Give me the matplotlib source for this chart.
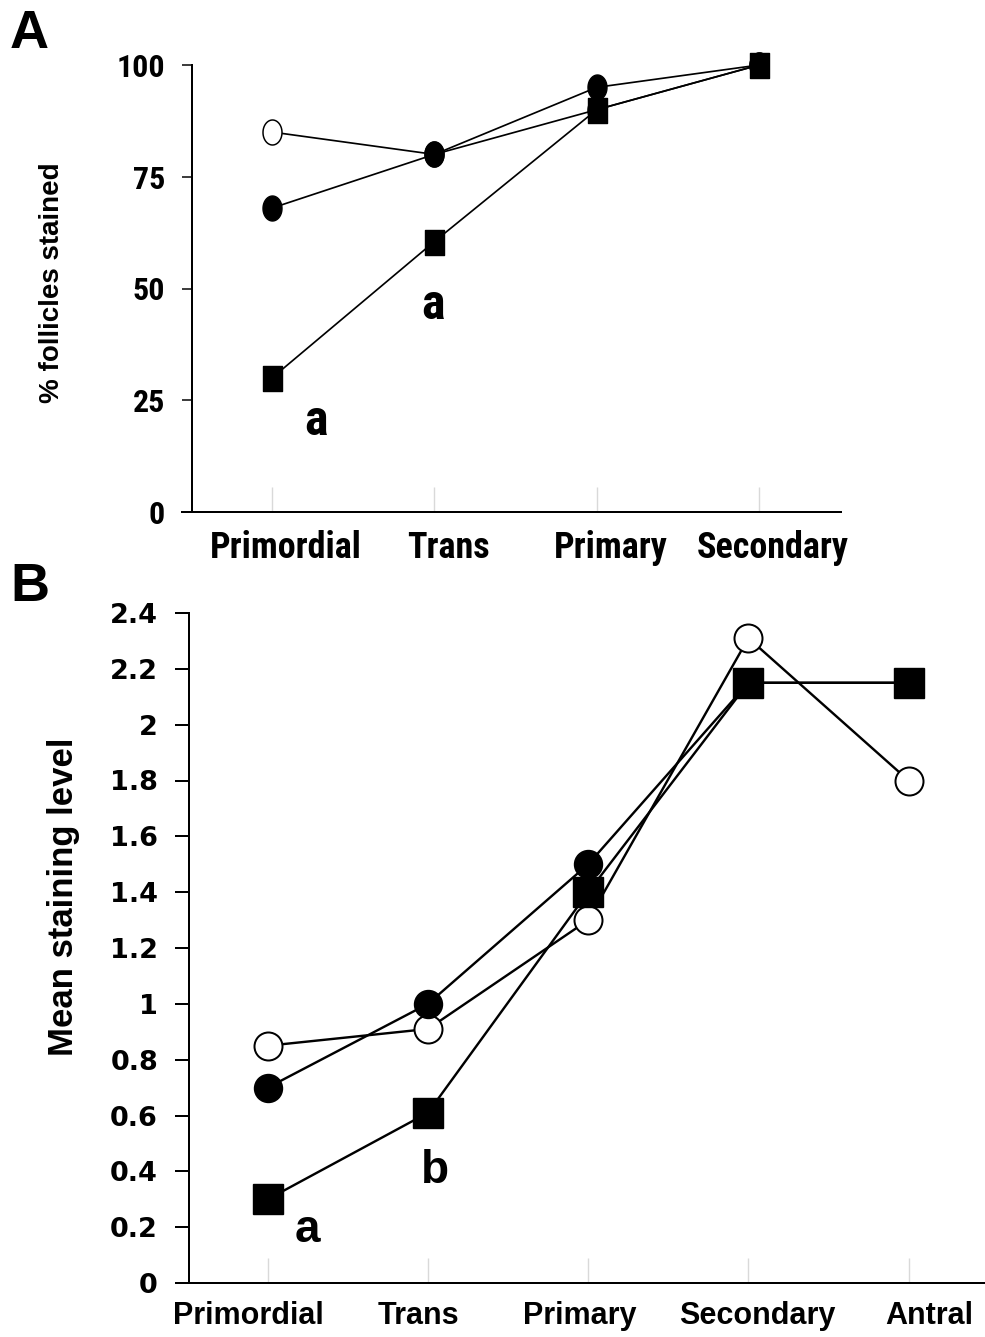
import matplotlib
matplotlib.use("Agg")
import matplotlib.pyplot as plt
from matplotlib import font_manager
from matplotlib.path import Path
from matplotlib.markers import MarkerStyle
from matplotlib.transforms import ScaledTranslation
import numpy as np

# ---------------- data ----------------
cats_a = ["Primordial", "Trans", "Primary", "Secondary"]
a_open = [85, 80, 90, 100]
a_filled = [68, 80, 95, 100]
a_square = [30, 60.5, 90, 100]
a_yticks = [0, 25, 50, 75, 100]

cats_b = ["Primordial", "Trans", "Primary", "Secondary", "Antral"]
b_open = [0.85, 0.91, 1.30, 2.31, 1.80]
b_filled = [0.70, 1.00, 1.50, 2.15, 2.15]
b_square = [0.30, 0.61, 1.40, 2.15, 2.15]
b_yticks = [0, 0.2, 0.4, 0.6, 0.8, 1.0, 1.2, 1.4, 1.6, 1.8, 2.0, 2.2, 2.4]
b_yticklabels = ["0", "0.2", "0.4", "0.6", "0.8", "1", "1.2", "1.4", "1.6", "1.8", "2", "2.2", "2.4"]

# ---------------- fonts ----------------
names = {f.name for f in font_manager.fontManager.ttflist}
if "Roboto Condensed" in names:
    NARROW, NSCALE = "Roboto Condensed", 1.0
else:
    NARROW, NSCALE = "Liberation Sans", 0.82
plt.rcParams["font.family"] = ["Liberation Sans", "DejaVu Sans"]
plt.rcParams["font.weight"] = "bold"

DPI = 100
fig = plt.figure(figsize=(9.85, 13.37), dpi=DPI)
px = 72.0 / DPI  # points per pixel

# elliptical / rectangular markers for panel A (vertically stretched)
t = np.linspace(0, 2 * np.pi, 60)
ell = Path(np.column_stack([0.38 * np.cos(t), 0.5 * np.sin(t)]), closed=True)
rect = Path([(-0.38, -0.5), (0.38, -0.5), (0.38, 0.5), (-0.38, 0.5), (-0.38, -0.5)], closed=True)

# ---------------- Panel A ----------------
axA = fig.add_axes([192 / 985, 1 - 512 / 1337, (841 - 192) / 985, (512 - 65) / 1337])
xa = np.arange(len(cats_a))
lw_a = 1.7 * px
axA.plot(xa, a_open, color="black", lw=lw_a, marker=MarkerStyle(ell), ms=25 * px,
         mfc="white", mec="black", mew=1.5 * px, zorder=3, clip_on=False)
axA.plot(xa, a_filled, color="black", lw=lw_a, marker=MarkerStyle(ell), ms=25 * px,
         mfc="black", mec="black", zorder=4, clip_on=False)
axA.plot(xa, a_square, color="black", lw=lw_a, marker=MarkerStyle(rect), ms=25 * px,
         mfc="black", mec="black", zorder=5, clip_on=False)
axA.set_xlim(-0.493, 3.505)
axA.set_ylim(0, 100)
axA.set_xticks(xa)
axA.set_xticklabels(cats_a, fontfamily=NARROW, fontsize=26 * NSCALE, fontweight="bold")
axA.set_yticks(a_yticks)
axA.set_yticklabels([str(v) for v in a_yticks], fontfamily=NARROW, fontsize=23 * NSCALE,
                    fontweight="bold")
axA.tick_params(axis="x", direction="in", length=25 * px, width=1.0, color="#d9d9d9",
                pad=18 * px)
axA.tick_params(axis="y", direction="out", length=10 * px, width=1.5 * px, color="black",
                pad=17 * px)
for lab in axA.get_xticklabels():
    lab.set_transform(lab.get_transform() + ScaledTranslation(14 / DPI, 0, fig.dpi_scale_trans))
for s in ["top", "right"]:
    axA.spines[s].set_visible(False)
for s in ["left", "bottom"]:
    axA.spines[s].set_linewidth(2 * px)
axA.spines["bottom"].set_bounds(-0.554, 3.505)
axA.set_ylabel("% follicles stained", fontsize=20, fontweight="bold")
axA.yaxis.set_label_coords(-0.195, 0.512)

axA.annotate("a", xy=(0, a_square[0]), xytext=(44, -57), textcoords="offset pixels",
             ha="center", va="baseline", fontfamily=NARROW, fontsize=36 * NSCALE,
             fontweight="bold")
axA.annotate("a", xy=(1, a_square[1]), xytext=(-1, -77), textcoords="offset pixels",
             ha="center", va="baseline", fontfamily=NARROW, fontsize=36 * NSCALE,
             fontweight="bold")

# ---------------- Panel B ----------------
axB = fig.add_axes([189 / 985, 1 - 1283 / 1337, (985 - 189) / 985, (1283 - 613) / 1337])
xb = np.arange(len(cats_b))
lw_b = 2.4 * px
axB.plot(xb, b_open, color="black", lw=lw_b, marker="o", ms=28 * px,
         mfc="white", mec="black", mew=2 * px, zorder=3, clip_on=False)
axB.plot(xb, b_filled, color="black", lw=lw_b, marker="o", ms=28 * px,
         mfc="black", mec="black", zorder=4, clip_on=False)
axB.plot(xb, b_square, color="black", lw=lw_b, marker="s", ms=30 * px,
         mfc="black", mec="black", zorder=5, clip_on=False)
axB.set_xlim(-0.492, 4.477)
axB.set_ylim(0, 2.4)
axB.set_xticks(xb)
axB.set_xticklabels(cats_b, fontsize=22, fontweight="bold")
axB.set_yticks(b_yticks)
axB.set_yticklabels(b_yticklabels, fontfamily=["DejaVu Sans"], fontsize=19.5,
                    fontweight="bold")
axB.tick_params(axis="x", direction="in", length=25 * px, width=1.0, color="#d9d9d9",
                pad=18 * px)
axB.tick_params(axis="y", direction="out", length=14 * px, width=2 * px, color="black",
                pad=17 * px)
b_label_shift = [-19, -10, -8, 9, 21]
for lab, dx in zip(axB.get_xticklabels(), b_label_shift):
    lab.set_transform(lab.get_transform() + ScaledTranslation(dx / DPI, 0, fig.dpi_scale_trans))
for s in ["top", "right"]:
    axB.spines[s].set_visible(False)
for s in ["left", "bottom"]:
    axB.spines[s].set_linewidth(2 * px)
axB.spines["bottom"].set_bounds(-0.573, 4.477)
axB.set_ylabel("Mean staining level", fontsize=25, fontweight="bold")
axB.yaxis.set_label_coords(-0.137, 0.576)

axB.annotate("a", xy=(0, b_square[0]), xytext=(40, -43), textcoords="offset pixels",
             ha="center", va="baseline", fontsize=33, fontweight="bold")
axB.annotate("b", xy=(1, b_square[1]), xytext=(7, -70), textcoords="offset pixels",
             ha="center", va="baseline", fontsize=33, fontweight="bold")

# panel letters
fig.text(10 / 985, 1 - 48 / 1337, "A", fontsize=39, fontweight="bold", ha="left", va="baseline")
fig.text(10 / 985, 1 - 601 / 1337, "B", fontsize=39, fontweight="bold", ha="left", va="baseline")

fig.savefig("out.png", dpi=DPI)
